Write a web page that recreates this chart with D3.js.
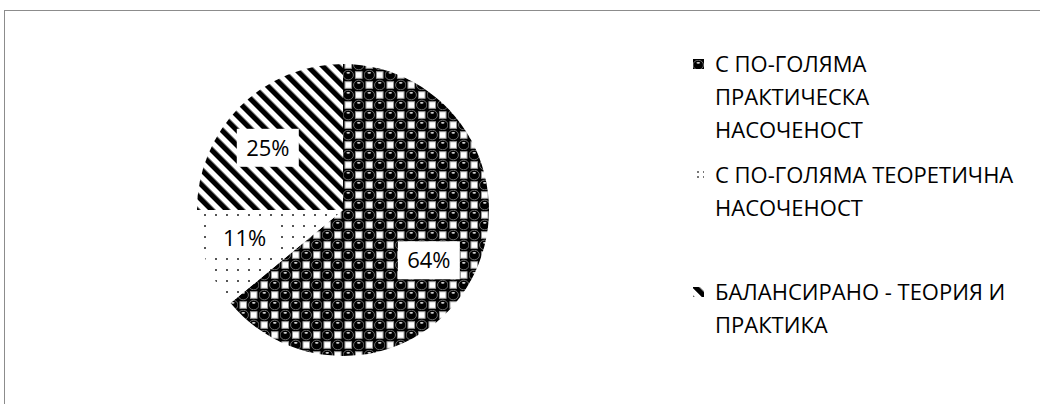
<!DOCTYPE html>
<html>
<head>
<meta charset="utf-8">
<script src="https://cdn.jsdelivr.net/npm/d3@7.9.0/dist/d3.min.js"></script>
<style>
  body { margin: 0; background: #fff; }
  svg { display: block; }
  text { font-family: "Open Sans", "Noto Sans", sans-serif; fill: #000; }
</style>
</head>
<body>
<svg id="chart" width="1040" height="404"></svg>
<script>
// data
const categories = [
  "С ПО-ГОЛЯМА ПРАКТИЧЕСКА НАСОЧЕНОСТ",
  "С ПО-ГОЛЯМА ТЕОРЕТИЧНА НАСОЧЕНОСТ",
  "БАЛАНСИРАНО - ТЕОРИЯ И ПРАКТИКА"
];
const legendLines = [
  ["С ПО-ГОЛЯМА", "ПРАКТИЧЕСКА", "НАСОЧЕНОСТ"],
  ["С ПО-ГОЛЯМА ТЕОРЕТИЧНА", "НАСОЧЕНОСТ"],
  ["БАЛАНСИРАНО - ТЕОРИЯ И", "ПРАКТИКА"]
];
const shares = [64, 11, 25];
const fills = ["sphere", "dots", "stripes"];

const svg = d3.select("#chart");
const cx = 343, cy = 210, radius = 146;

// chart area border (only top and left are inside the picture)
svg.append("rect")
  .attr("x", 4.5).attr("y", 10.5)
  .attr("width", 1100).attr("height", 500)
  .attr("fill", "none").attr("stroke", "#8c8c8c");

// ---- patterns ----
let defs = svg.append("defs");

let sphere = defs.append("pattern")
  .attr("id", "sphere").attr("patternUnits", "userSpaceOnUse")
  .attr("width", 21).attr("height", 20);
sphere.append("rect").attr("width", 21).attr("height", 20).attr("fill", "#000");
[[15.75, 5], [5.25, 15]].forEach(([x, y]) => {
  sphere.append("rect")
    .attr("x", x - 3.3).attr("y", y - 3.3).attr("width", 6.6).attr("height", 6.6)
    .attr("fill", "#fff").attr("stroke", "#999").attr("stroke-width", 1);
});
[[5.25, 5], [15.75, 15]].forEach(([x, y]) => {
  sphere.append("ellipse").attr("cx", x).attr("cy", y).attr("rx", 5.2).attr("ry", 4.8)
    .attr("fill", "#000").attr("stroke", "#777").attr("stroke-width", 0.9);
  sphere.append("ellipse").attr("cx", x).attr("cy", y - 2.2)
    .attr("rx", 1.8).attr("ry", 0.9).attr("fill", "#ddd");
});

let dots = defs.append("pattern")
  .attr("id", "dots").attr("patternUnits", "userSpaceOnUse")
  .attr("width", 11).attr("height", 11);
dots.append("rect").attr("width", 11).attr("height", 11).attr("fill", "#fff");
dots.append("rect").attr("x", 4).attr("y", 4).attr("width", 2).attr("height", 2).attr("fill", "#555");

// tighter dots for the small legend key
let dotsKey = defs.append("pattern")
  .attr("id", "dotsKey").attr("patternUnits", "userSpaceOnUse")
  .attr("width", 6).attr("height", 5);
dotsKey.append("rect").attr("width", 6).attr("height", 5).attr("fill", "#fff");
dotsKey.append("rect").attr("x", 1).attr("y", 1).attr("width", 2).attr("height", 2).attr("fill", "#777");

let stripes = defs.append("pattern")
  .attr("id", "stripes").attr("patternUnits", "userSpaceOnUse")
  .attr("width", 10.6).attr("height", 10.6)
  .attr("patternTransform", "rotate(-45)");
stripes.append("rect").attr("width", 10.6).attr("height", 10.6).attr("fill", "#fff");
stripes.append("rect").attr("width", 5.3).attr("height", 10.6).attr("fill", "#000");

// ---- pie ----
let pie = d3.pie().sort(null).value((d) => d);
let arcs = pie(shares);
let arcGen = d3.arc().innerRadius(0).outerRadius(radius);
let labelArc = d3.arc().innerRadius(radius * 0.68).outerRadius(radius * 0.68);
// small nudges so the boxes sit where Excel put them
let labelShift = [[-4, 8], [-5, -6], [-5, 8]];

let g = svg.append("g").attr("transform", `translate(${cx},${cy})`);
g.selectAll("path.slice")
  .data(arcs)
  .join("path")
  .attr("class", "slice")
  .attr("d", arcGen)
  .attr("fill", (d, i) => `url(#${fills[i]})`);

// data labels with white boxes
let labels = g.selectAll("g.lbl")
  .data(arcs)
  .join("g")
  .attr("class", "lbl")
  .attr("transform", (d, i) => {
    let [x, y] = labelArc.centroid(d);
    return `translate(${x + labelShift[i][0]},${y + labelShift[i][1]})`;
  });
labels.append("rect")
  .attr("x", -31).attr("y", -19).attr("width", 62).attr("height", 38)
  .attr("fill", "#fff");
labels.append("text")
  .attr("text-anchor", "middle")
  .attr("dy", "0.36em")
  .attr("font-size", 22)
  .text((d) => `${d.data}%`);

// ---- legend ----
let entryY = [72, 183, 300];
let lineH = 33;
let keyFills = ["sphere", "dotsKey", "stripes"];
let legend = svg.append("g");
legendLines.forEach((lines, i) => {
  legend.append("rect")
    .attr("x", 693).attr("y", entryY[i] - 13)
    .attr("width", 11).attr("height", 10)
    .attr("fill", `url(#${keyFills[i]})`);
  let t = legend.append("text")
    .attr("x", 715).attr("y", entryY[i])
    .attr("font-size", 22);
  lines.forEach((ln, j) => {
    t.append("tspan").attr("x", 715).attr("y", entryY[i] + j * lineH).text(ln);
  });
});
</script>
</body>
</html>
